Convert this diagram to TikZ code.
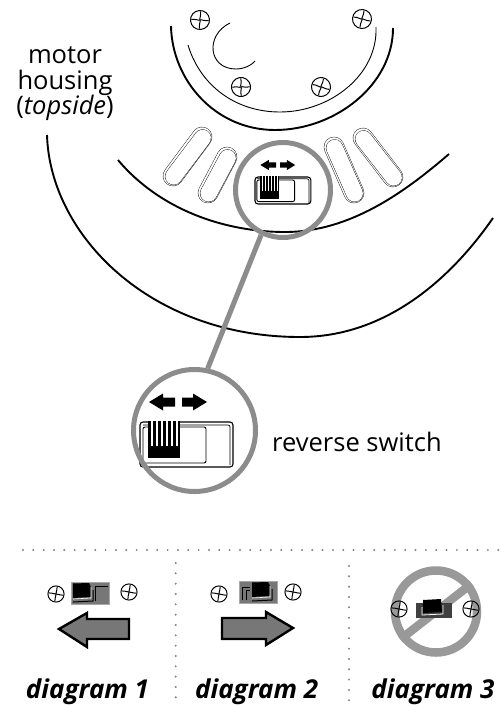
\documentclass[tikz,border=0pt]{standalone}
\usepackage{fontspec}
\setmainfont{Open Sans}
\usetikzlibrary{positioning}

\definecolor{lensgray}{HTML}{8C8C8C}
\definecolor{ringgray}{HTML}{999999}
\definecolor{arrowgray}{HTML}{777777}
\definecolor{dotgray}{HTML}{808080}
\definecolor{haloalt}{HTML}{A8A8A8}

\tikzset{
	thickarc/.style={line width=1.9pt},
	thinarc/.style={line width=.9pt},
	lens/.style={circle, draw=lensgray, line width=5pt, inner sep=0pt},
	dots/.style={dotgray, line width=2.2pt, line cap=round, dash pattern=on 0pt off 10.33pt},
	bigarrow/.style={draw=black, fill=arrowgray, line width=2.4pt, miter limit=6},
	label/.style={font=\fontsize{25.5}{25.5}\selectfont, align=center, inner sep=0pt},
	caption/.style={font=\fontsize{26}{26}\selectfont\bfseries\itshape, inner sep=0pt, anchor=base},
	screw/.pic={
		\draw[line width=1pt] (0,0) circle (9.5);
		\draw[line width=1pt] (-8.5,-1.2) .. controls (-4,-1.8) and (-1.5,.8) .. (0,0) .. controls (1.5,-.8) and (4,1.8) .. (8.5,1.2);
		\draw[line width=1pt] (1.2,-8.5) .. controls (1.8,-4) and (-.8,-1.5) .. (0,0) .. controls (.8,1.5) and (-1.8,4) .. (-1.2,8.5);
	},
	reverser/.pic={
		\fill[black] (9,-20) -- (23,-28.5) -- (23,-24.5) -- (35,-24.5) -- (35,-15.5) -- (23,-15.5) -- (23,-11.5) -- cycle;
		\fill[black] (67,-20) -- (53,-28.5) -- (53,-24.5) -- (42,-24.5) -- (42,-15.5) -- (53,-15.5) -- (53,-11.5) -- cycle;
		\draw[line width=1.1pt, rounded corners=3pt] (0,0) rectangle (93,45);
		\draw[line width=.7pt, rounded corners=2pt] (3,3) -- (90,3) -- (90,43);
		\draw[line width=.9pt, rounded corners=2pt] (3,5) rectangle (66,41);
		\fill[white] (8,-1) rectangle (39,36);
		\foreach \bar in {8,13,18,23,28,33}
			\fill[black] (\bar,-1) rectangle +(3.2,25);
		\fill[black] (38,-1) rectangle (39.5,24);
		\fill[black] (8,24) rectangle (39.5,36);
	},
	minisw/.pic={
		\draw[haloalt, fill=arrowgray, line width=1pt] (0,0) rectangle (38,22);
		\fill[black] (#1,1.5) -- (#1+16,1) -- (#1+18,5) -- (#1+18,15) -- (#1,16) -- cycle;
		\draw[white, line width=.6pt] (#1,17) -- (#1+18,16) -- (#1+18,5);
		\draw[black, line width=1pt] (#1,20) -- (#1+20,19) -- (#1+20,8);
	},
}

\begin{document}
\begin{tikzpicture}[x=1pt, y=-1pt]
	\useasboundingbox (0,0) rectangle (500,706);

	% motor housing
	\draw[thickarc] (171,26) .. controls (172,80) and (215,130) .. (275,130) .. controls (335,130) and (393,85) .. (393,28);
	\draw[thinarc] (188,45) .. controls (200,85) and (235,112) .. (280,112) .. controls (330,112) and (378,75) .. (376,27);
	\draw[thinarc] (230,23) .. controls (205,35) and (208,69) .. (236,69) .. controls (244,69) and (252,65) .. (255,61);
	\draw[thickarc] (118,160) .. controls (160,210) and (225,232) .. (285,232) .. controls (350,232) and (405,192) .. (449,154);
	\draw[thickarc] (47,135) .. controls (50,235) and (150,337) .. (300,337) .. controls (385,337) and (450,280) .. (493,218);

	\foreach \px/\py/\tilt in {200/20/5, 362/19/-5, 241/87/10, 321/87/-8}
		\pic[rotate=\tilt] at (\px,\py) {screw};

	% slots
	\foreach \ax/\ay/\bx/\by in {202/137/173/176, 227/157/208/193, 334/147/354/193, 363/138/393/177} {
		\draw[line cap=round, line width=20.4pt] (\ax,\ay) -- (\bx,\by);
		\draw[line cap=round, line width=19.6pt, white] (\ax,\ay) -- (\bx,\by);
		\draw[line cap=round, line width=17.4pt] (\ax+.6,\ay+1) -- (\bx+.6,\by+.4);
		\draw[line cap=round, line width=16.6pt, white] (\ax+.6,\ay+1) -- (\bx+.6,\by+.4);
	}

	\node[label] (housing) at (65,84) {motor\\housing\\(\textit{topside})};

	% switch and its enlargement
	\pic[scale=.6] at (255,177) {reverser};
	\node[lens, minimum size=95pt] (lenssmall) at (283,190) {};
	\pic at (140,422) {reverser};
	\node[lens, minimum size=122pt] (lensbig) at (194.5,430.5) {};
	\draw[lensgray, line width=5pt] (lenssmall.244) -- (lensbig.78);
	\node[label, anchor=base west] (reverse) at (272,451) {reverse switch};

	% lower panels
	\coordinate (rowstart) at (23,550);
	\coordinate (rowend) at (500,550);
	\coordinate (colonetop) at (175.7,563);
	\coordinate (colonebot) at (175.7,706);
	\coordinate (coltwotop) at (349,566);
	\coordinate (coltwobot) at (349,706);
	\draw[dots] (rowstart) -- (rowend);
	\draw[dots] (colonetop) -- (colonebot);
	\draw[dots] (coltwotop) -- (coltwobot);

	% diagram 1
	\pic[scale=.85] at (56,594) {screw};
	\pic[scale=.85] at (129,592) {screw};
	\pic at (71,582) {minisw=2};
	\draw[bigarrow] (59,629) -- (87,613) -- (87,619) -- (129,619) -- (129,639) -- (87,639) -- (87,647) -- cycle;
	\draw[line width=.8pt] (95,586) -- (108,586) (95,586) -- (95,601);
	\node[caption] (diagone) at (87.5,698) {diagram 1};

	% diagram 2
	\pic[scale=.85] at (219,594) {screw};
	\pic[scale=.85] at (293,592) {screw};
	\pic at (239,581) {minisw=13};
	\draw[line width=1pt] (242,600) -- (242,587) -- (250,587) (246,600) -- (246,590) -- (250,590);
	\draw[bigarrow] (293,628) -- (266,612) -- (266,618) -- (222,618) -- (222,639) -- (266,639) -- (266,645) -- cycle;
	\node[caption] (diagtwo) at (256.7,698) {diagram 2};

	% diagram 3
	\node[circle, draw=ringgray, line width=8.5pt, minimum size=82pt, inner sep=0pt] (ban) at (436,611.5) {};
	\draw[ringgray, line width=8.5pt] (ban.218) -- (ban.38);
	\pic[scale=.85] at (399,609) {screw};
	\pic[scale=.85] at (471,609) {screw};
	\fill[black!75] (416,603) rectangle (452,618);
	\fill[black] (423,600) -- (441,599) -- (442,612) -- (423,613) -- cycle;
	\draw[white, line width=.8pt] (422,607) -- (422,615) -- (443,614) -- (443,605);
	\node[caption] (diagthree) at (433,698) {diagram 3};
\end{tikzpicture}
\end{document}
